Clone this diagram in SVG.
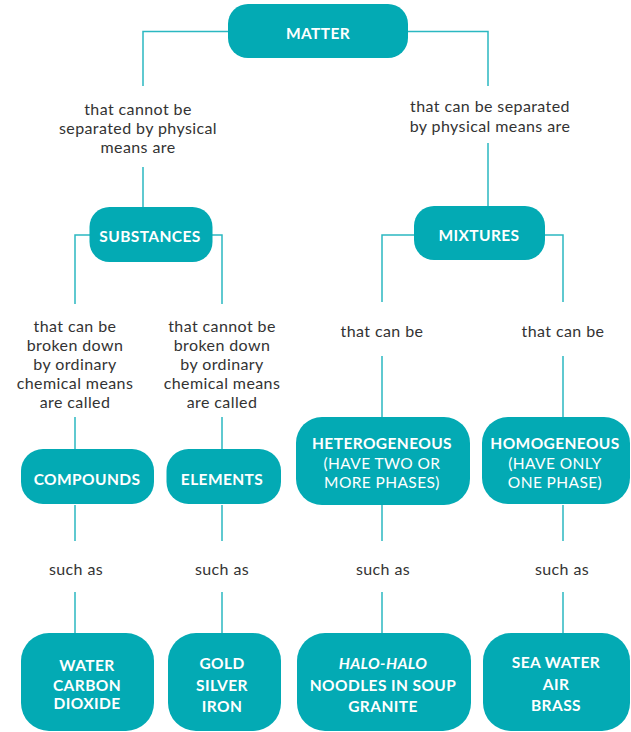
<svg xmlns="http://www.w3.org/2000/svg" width="631" height="732" viewBox="0 0 631 732">
<style>
.box{fill:#03AAB4}
.bl{font-family:Lato,"Open Sans",sans-serif;font-weight:bold;font-size:15.5px;letter-spacing:0.4px;fill:#fff;text-anchor:middle;dominant-baseline:central}
.bn{font-family:Lato,"Open Sans",sans-serif;font-size:15.5px;letter-spacing:0.4px;fill:#fff;text-anchor:middle;dominant-baseline:central}
.t{font-family:Lato,"Open Sans",sans-serif;font-size:16px;letter-spacing:0.4px;fill:#333;text-anchor:middle;dominant-baseline:central}
.c{fill:none;stroke:#2BB8C1;stroke-width:1.5}
</style>
<rect width="631" height="732" fill="#fff"/>
<g id="connectors">
<path class="c" d="M228,31.5H143V86M143,167V207"/>
<path class="c" d="M408,31.5H488V86M488,143V206"/>
<path class="c" d="M90,235H75V304M75,417V449M75,505V541M75,592V633"/>
<path class="c" d="M212,235H222V304M222,417V449M222,505V541M222,592V633"/>
<path class="c" d="M415,235H382V302M382,356V417M382,505V541M382,592V633"/>
<path class="c" d="M545,235H563V302M563,356V417M563,505V541M563,592V633"/>
</g>
<g id="labels" transform="translate(0,-1)">
<text class="t" x="138" y="109">that cannot be</text>
<text class="t" x="138" y="128">separated by physical</text>
<text class="t" x="138" y="147">means are</text>
<text class="t" x="490" y="106">that can be separated</text>
<text class="t" x="490" y="126">by physical means are</text>
<text class="t" x="75" y="326">that can be</text>
<text class="t" x="75" y="345">broken down</text>
<text class="t" x="75" y="364">by ordinary</text>
<text class="t" x="75" y="383">chemical means</text>
<text class="t" x="75" y="402">are called</text>
<text class="t" x="222" y="326">that cannot be</text>
<text class="t" x="222" y="345">broken down</text>
<text class="t" x="222" y="364">by ordinary</text>
<text class="t" x="222" y="383">chemical means</text>
<text class="t" x="222" y="402">are called</text>
<text class="t" x="382" y="331">that can be</text>
<text class="t" x="563" y="331">that can be</text>
<text class="t" x="76" y="569">such as</text>
<text class="t" x="222" y="569">such as</text>
<text class="t" x="383" y="569">such as</text>
<text class="t" x="562" y="569">such as</text>
</g>
<g id="matter"><rect class="box" x="228" y="4" width="180" height="54" rx="20"/><text class="bl" x="318" y="33">MATTER</text></g>
<g id="substances"><rect class="box" x="89.5" y="207" width="123" height="55" rx="20"/><text class="bl" x="150" y="236">SUBSTANCES</text></g>
<g id="mixtures"><rect class="box" x="414" y="206" width="131" height="54" rx="20"/><text class="bl" x="479" y="235">MIXTURES</text></g>
<g id="compounds"><rect class="box" x="21" y="449" width="133" height="55" rx="22"/><text class="bl" x="87" y="479">COMPOUNDS</text></g>
<g id="elements"><rect class="box" x="166.5" y="449" width="114.5" height="55" rx="22"/><text class="bl" x="222" y="479">ELEMENTS</text></g>
<g id="heterogeneous"><rect class="box" x="296" y="417" width="174" height="88" rx="26"/><text class="bl" x="382" y="443">HETEROGENEOUS</text><text class="bn" x="382" y="463">(HAVE TWO OR</text><text class="bn" x="382" y="482">MORE PHASES)</text></g>
<g id="homogeneous"><rect class="box" x="482" y="417" width="148" height="87" rx="26"/><text class="bl" x="555" y="443">HOMOGENEOUS</text><text class="bn" x="555" y="463">(HAVE ONLY</text><text class="bn" x="555" y="482">ONE PHASE)</text></g>
<g id="ex-compounds"><rect class="box" x="21" y="633" width="133" height="98" rx="28"/><text class="bl" x="87" y="665">WATER</text><text class="bl" x="87" y="685" font-size="15px">CARBON</text><text class="bl" x="87" y="703" font-size="15px">DIOXIDE</text></g>
<g id="ex-elements"><rect class="box" x="168" y="633" width="113" height="98" rx="28"/><text class="bl" x="222" y="663">GOLD</text><text class="bl" x="222" y="685">SILVER</text><text class="bl" x="222" y="706">IRON</text></g>
<g id="ex-heterogeneous"><rect class="box" x="297" y="633" width="174" height="98" rx="28"/><text class="bl" x="383" y="663" font-style="italic">HALO-HALO</text><text class="bl" x="383" y="685">NOODLES IN SOUP</text><text class="bl" x="383" y="706">GRANITE</text></g>
<g id="ex-homogeneous"><rect class="box" x="483" y="633" width="147" height="98" rx="28"/><text class="bl" x="556" y="662">SEA WATER</text><text class="bl" x="556" y="684">AIR</text><text class="bl" x="556" y="705">BRASS</text></g>
</svg>
